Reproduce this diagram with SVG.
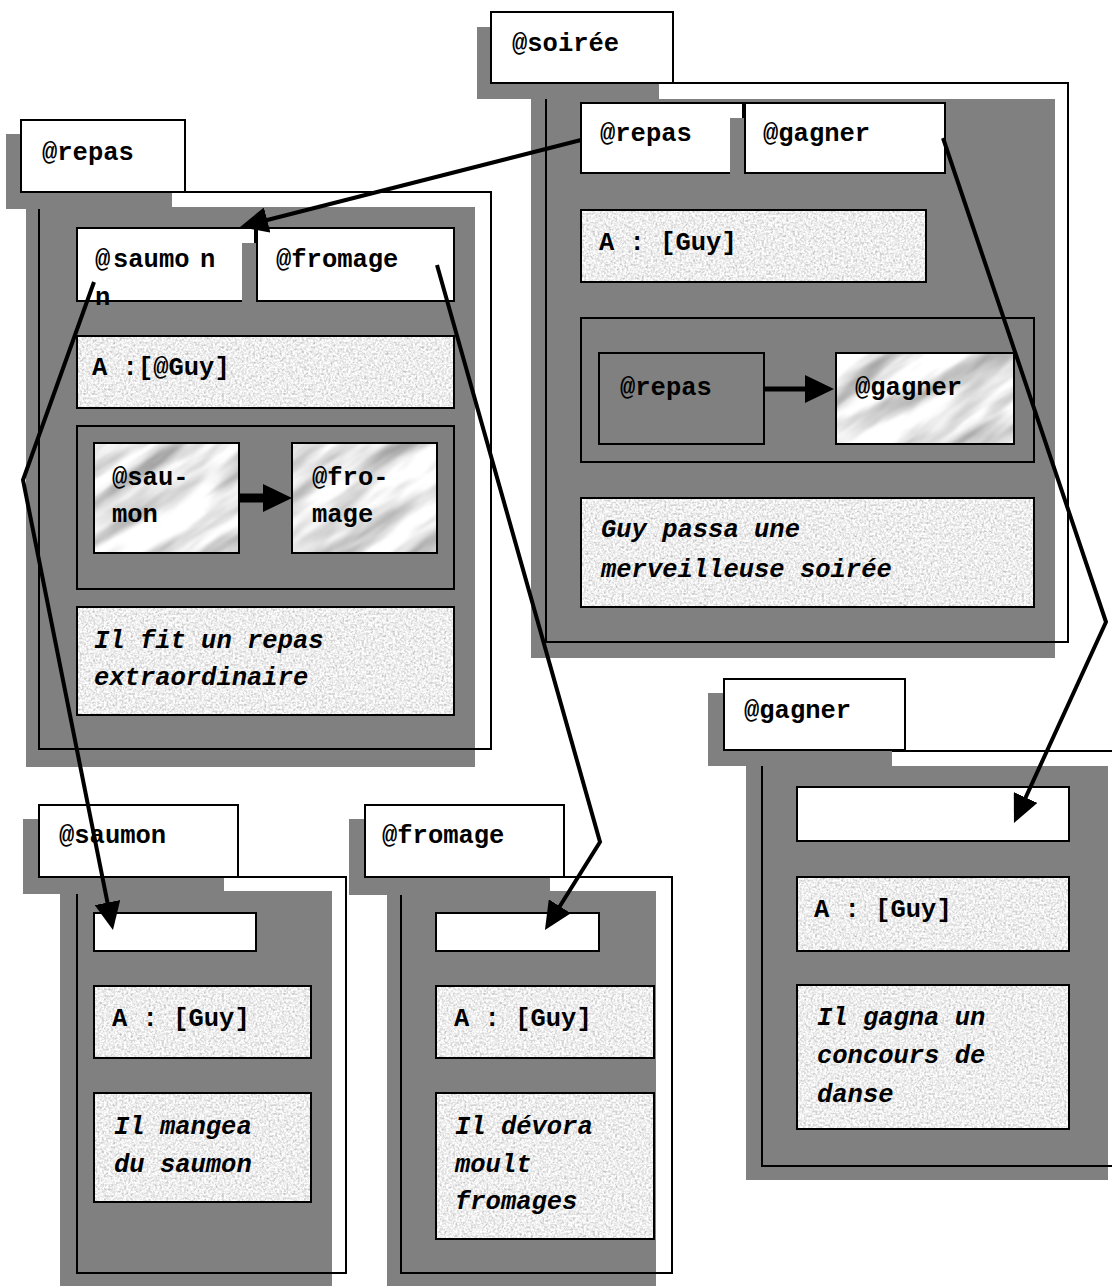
<svg xmlns="http://www.w3.org/2000/svg" width="1112" height="1286" viewBox="0 0 1112 1286">
  <defs>
    <style>
      .shade { fill: #808080; }
      .outline { fill: none; stroke: #000; stroke-width: 2; }
      .tab { fill: #fff; stroke: #000; stroke-width: 2; }
      .box { fill: #fff; stroke: #000; stroke-width: 2; }
      .granite { fill: url(#graniteP); stroke: #000; stroke-width: 2; }
      .edge { fill: none; stroke: #000; stroke-width: 2; }
      .group { fill: #808080; stroke: #000; stroke-width: 2; }
      text { font-family: "Liberation Mono", "Courier New", monospace; font-size: 25.5px; font-weight: bold; fill: #000; }
      text.desc { font-style: italic; }
      .conn { fill: none; stroke: #000; stroke-width: 4; stroke-linejoin: miter; marker-end: url(#head); }
      .link { stroke: #000; marker-end: url(#headS); }
    </style>
    <!-- speckled stone fill -->
    <filter id="graniteF" x="0" y="0" width="1" height="1" filterUnits="objectBoundingBox" color-interpolation-filters="sRGB">
      <feTurbulence type="fractalNoise" baseFrequency="0.45" numOctaves="3" seed="4" stitchTiles="stitch"/>
      <feColorMatrix type="matrix" values="0.32 0.32 0 0 0.61  0.32 0.32 0 0 0.61  0.32 0.32 0 0 0.61  0 0 0 0 1"/>
      <feGaussianBlur stdDeviation="0.4"/>
    </filter>
    <pattern id="graniteP" patternUnits="userSpaceOnUse" width="200" height="200">
      <rect width="200" height="200" filter="url(#graniteF)"/>
    </pattern>
    <!-- veined marble fill, one sheet clipped to each marble box -->
    <filter id="marbleF" x="0" y="0" width="1" height="1" filterUnits="objectBoundingBox" color-interpolation-filters="sRGB">
      <feTurbulence type="fractalNoise" baseFrequency="0.008 0.045" numOctaves="4" seed="7"/>
      <feColorMatrix type="matrix" values="0.9 0 0 0 0.46  0.9 0 0 0 0.46  0.9 0 0 0 0.46  0 0 0 0 1"/>
      <feGaussianBlur stdDeviation="1.2"/>
    </filter>
    <rect id="marbleTex" x="-45" y="-150" width="1200" height="1200" filter="url(#marbleF)" transform="rotate(-35 555 450)"/>
    <clipPath id="clipSeqSaumon"><rect x="94" y="443" width="145" height="110"/></clipPath>
    <clipPath id="clipSeqFromage"><rect x="292" y="443" width="145" height="110"/></clipPath>
    <clipPath id="clipSeqGagner"><rect x="836" y="353" width="178" height="91"/></clipPath>
    <marker id="head" markerUnits="userSpaceOnUse" viewBox="0 0 28 26" markerWidth="28" markerHeight="26" refX="20" refY="13" orient="auto">
      <path d="M0,0 L28,13 L0,26 z" fill="#000"/>
    </marker>
    <marker id="headS" markerUnits="userSpaceOnUse" viewBox="0 0 29 28" markerWidth="29" markerHeight="28" refX="2" refY="14" orient="auto">
      <path d="M0,0 L29,14 L0,28 z" fill="#000"/>
    </marker>
  </defs>

  <rect width="1112" height="1286" fill="#fff"/>

  <!-- @repas -->
  <g id="frame-repas">
    <rect class="shade" x="26" y="207" width="449" height="560"/>
    <rect class="outline" x="39" y="192" width="452" height="557"/>
    <rect class="shade" x="6" y="134" width="166" height="75"/>
    <rect class="tab" x="21" y="120" width="164" height="72"/>
    <text x="42" y="160">@repas</text>
    <g id="repas-saumon">
      <rect class="box" x="77" y="228" width="178" height="73"/>
      <rect class="shade" x="242" y="243" width="14" height="60"/>
      <text x="95" y="267">@<tspan x="113">saumo</tspan><tspan x="200">n</tspan></text>
      <text x="95" y="305">n</text>
    </g>
    <g id="repas-fromage">
      <rect class="box" x="257" y="228" width="197" height="73"/>
      <text x="276" y="267">@fromage</text>
    </g>
    <g id="repas-agent">
      <rect class="granite" x="77" y="336" width="377" height="72"/>
      <text x="92" y="375">A :[@Guy]</text>
    </g>
    <g id="repas-sequence">
      <rect class="group" x="77" y="426" width="377" height="163"/>
      <g id="seq-saumon">
        <use href="#marbleTex" clip-path="url(#clipSeqSaumon)"/>
        <rect class="edge" x="94" y="443" width="145" height="110"/>
        <text x="112" y="485">@sau-</text>
        <text x="112" y="522">mon</text>
      </g>
      <g id="seq-fromage">
        <use href="#marbleTex" clip-path="url(#clipSeqFromage)"/>
        <rect class="edge" x="292" y="443" width="145" height="110"/>
        <text x="312" y="485">@fro-</text>
        <text x="312" y="522">mage</text>
      </g>
      <line class="link" x1="239" y1="498" x2="265" y2="498" stroke-width="9"/>
    </g>
    <g id="repas-text">
      <rect class="granite" x="77" y="607" width="377" height="108"/>
      <text class="desc" x="94" y="648">Il fit un repas</text>
      <text class="desc" x="94" y="685">extraordinaire</text>
    </g>
  </g>

  <!-- @soirée -->
  <g id="frame-soiree">
    <rect class="shade" x="531" y="99" width="524" height="559"/>
    <rect class="outline" x="546" y="83" width="522" height="559"/>
    <rect class="shade" x="477" y="27" width="182" height="72"/>
    <rect class="tab" x="491" y="12" width="182" height="71"/>
    <text x="512" y="51">@soirée</text>
    <g id="soiree-repas">
      <rect class="box" x="581" y="103" width="162" height="70"/>
      <rect class="shade" x="730" y="118" width="14" height="57"/>
      <text x="600" y="141">@repas</text>
    </g>
    <g id="soiree-gagner">
      <rect class="box" x="745" y="103" width="200" height="70"/>
      <text x="763" y="141">@gagner</text>
    </g>
    <g id="soiree-agent">
      <rect class="granite" x="581" y="210" width="345" height="72"/>
      <text x="599" y="250">A : [Guy]</text>
    </g>
    <g id="soiree-sequence">
      <rect class="group" x="581" y="318" width="453" height="144"/>
      <g id="seq-repas">
        <rect class="group" x="599" y="353" width="165" height="91"/>
        <text x="620" y="395">@repas</text>
      </g>
      <g id="seq-gagner">
        <use href="#marbleTex" clip-path="url(#clipSeqGagner)"/>
        <rect class="edge" x="836" y="353" width="178" height="91"/>
        <text x="855" y="395">@gagner</text>
      </g>
      <line class="link" x1="764" y1="389" x2="807" y2="389" stroke-width="5"/>
    </g>
    <g id="soiree-text">
      <rect class="granite" x="581" y="498" width="453" height="109"/>
      <text class="desc" x="601" y="537">Guy passa une</text>
      <text class="desc" x="601" y="577">merveilleuse soirée</text>
    </g>
  </g>

  <!-- @saumon -->
  <g id="frame-saumon">
    <rect class="shade" x="60" y="891" width="272" height="400"/>
    <rect class="outline" x="77" y="877" width="269" height="396"/>
    <rect class="shade" x="23" y="819" width="201" height="75"/>
    <rect class="tab" x="39" y="805" width="199" height="72"/>
    <text x="59" y="843">@saumon</text>
    <rect class="box" x="94" y="913" width="162" height="38"/>
    <g id="saumon-agent">
      <rect class="granite" x="94" y="986" width="217" height="72"/>
      <text x="112" y="1026">A : [Guy]</text>
    </g>
    <g id="saumon-text">
      <rect class="granite" x="94" y="1093" width="217" height="109"/>
      <text class="desc" x="114" y="1134">Il mangea</text>
      <text class="desc" x="114" y="1172">du saumon</text>
    </g>
  </g>

  <!-- @fromage -->
  <g id="frame-fromage">
    <rect class="shade" x="387" y="891" width="269" height="400"/>
    <rect class="outline" x="401" y="877" width="271" height="396"/>
    <rect class="shade" x="349" y="819" width="201" height="76"/>
    <rect class="tab" x="365" y="805" width="199" height="72"/>
    <text x="382" y="843">@fromage</text>
    <rect class="box" x="436" y="913" width="163" height="38"/>
    <g id="fromage-agent">
      <rect class="granite" x="436" y="986" width="218" height="72"/>
      <text x="454" y="1026">A : [Guy]</text>
    </g>
    <g id="fromage-text">
      <rect class="granite" x="436" y="1093" width="218" height="146"/>
      <text class="desc" x="455" y="1134">Il dévora</text>
      <text class="desc" x="455" y="1172">moult</text>
      <text class="desc" x="455" y="1209">fromages</text>
    </g>
  </g>

  <!-- @gagner -->
  <g id="frame-gagner">
    <rect class="shade" x="746" y="766" width="362" height="414"/>
    <rect class="outline" x="762" y="751" width="380" height="415"/>
    <rect class="shade" x="708" y="693" width="184" height="73"/>
    <rect class="tab" x="724" y="679" width="181" height="71"/>
    <text x="744" y="718">@gagner</text>
    <rect class="box" x="797" y="787" width="272" height="54"/>
    <g id="gagner-agent">
      <rect class="granite" x="797" y="877" width="272" height="74"/>
      <text x="814" y="917">A : [Guy]</text>
    </g>
    <g id="gagner-text">
      <rect class="granite" x="797" y="985" width="272" height="144"/>
      <text class="desc" x="817" y="1025">Il gagna un</text>
      <text class="desc" x="817" y="1063">concours de</text>
      <text class="desc" x="817" y="1102">danse</text>
    </g>
  </g>

  <!-- references between frames -->
  <g id="connectors">
    <polyline class="conn" points="581,140 247.8,225"/>
    <polyline class="conn" points="94,282 23,480 111.4,922.2"/>
    <polyline class="conn" points="437,265 600,842 549.2,923.2"/>
    <polyline class="conn" points="943,138 1106,622 1017.3,815.7"/>
  </g>
</svg>
